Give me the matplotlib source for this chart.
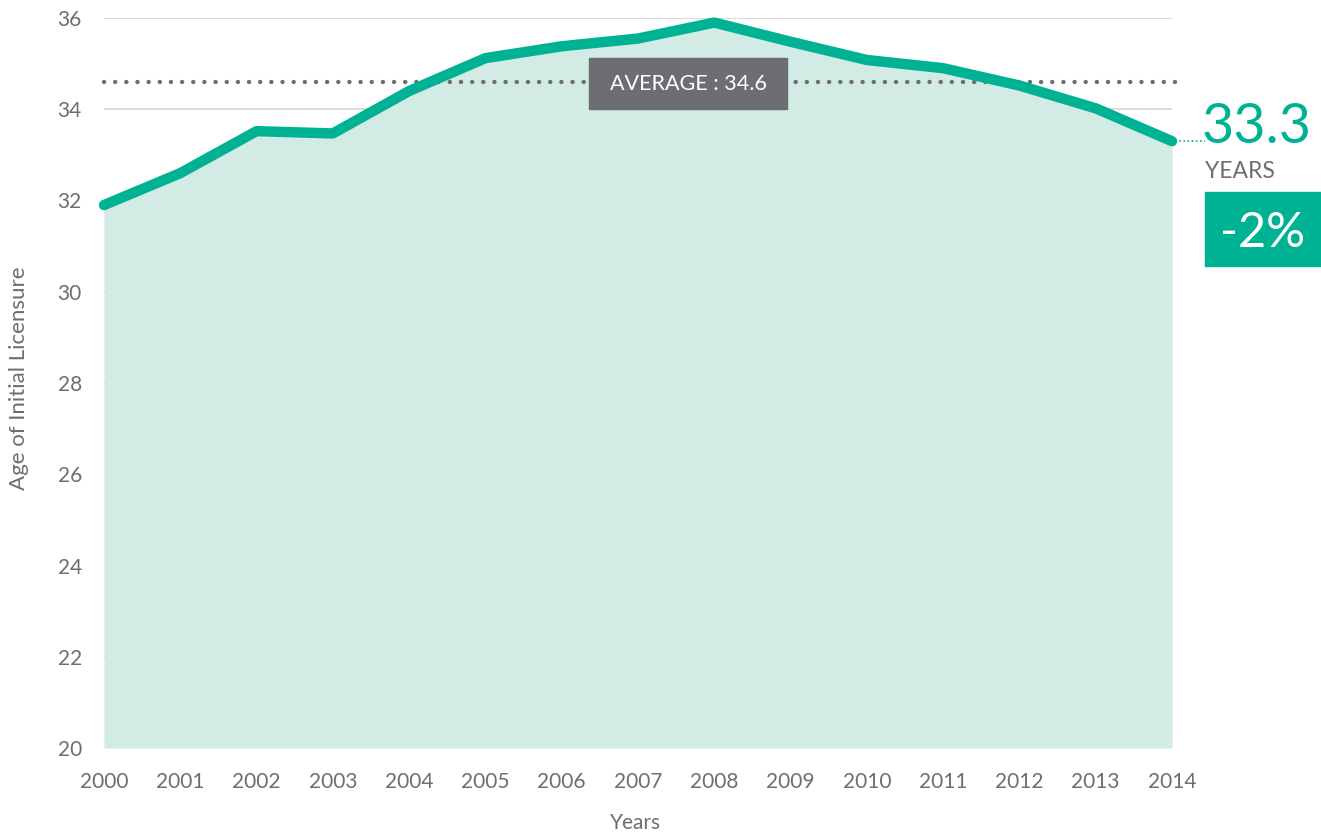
import matplotlib
matplotlib.use("Agg")
import matplotlib.pyplot as plt
from matplotlib.patches import Rectangle
from matplotlib.lines import Line2D
from matplotlib import font_manager

years = [2000, 2001, 2002, 2003, 2004, 2005, 2006, 2007, 2008, 2009, 2010, 2011, 2012, 2013, 2014]
ages = [31.9, 32.6, 33.52, 33.47, 34.4, 35.12, 35.38, 35.55, 35.9, 35.48, 35.08, 34.9, 34.52, 34.02, 33.3]
average = 34.6
yticks = [20, 22, 24, 26, 28, 30, 32, 34, 36]
last_value_label = "33.3"
change_label = "-2%"

GREEN = "#00B294"
FILL = "#D2EBE4"
GRAY = "#6D6E71"
GRID = "#D3D3D3"

names = {f.name for f in font_manager.fontManager.ttflist}
FONT = "Lato" if "Lato" in names else "DejaVu Sans"
plt.rcParams['font.family'] = [FONT, 'DejaVu Sans']

W, H = 1321, 835
fig = plt.figure(figsize=(W / 100, H / 100), dpi=100)
fig.patch.set_facecolor("white")

def fx(px):
    return px / W

def fy(py):
    return 1 - py / H

ax = fig.add_axes([fx(104), fy(748), fx(1172) - fx(104), fy(18) - fy(748)])
ax.set_xlim(years[0], years[-1])
ax.set_ylim(20, 36)

for t in yticks:
    ax.axhline(t, color=GRID, lw=1.2, zorder=0)

ax.fill_between(years, ages, 20, color=FILL, lw=0, zorder=1)
ax.plot(years, ages, color=GREEN, lw=7.5, solid_capstyle="round",
        solid_joinstyle="round", zorder=4, clip_on=False)

# average dotted line
ax.plot([years[0], years[-1] + 0.05], [average, average], color=GRAY, lw=3.2,
        linestyle=(0, (0.01, 2.5)), dash_capstyle="round", zorder=3, clip_on=False)

for s in ax.spines.values():
    s.set_visible(False)
ax.set_xticks(years)
ax.set_xticklabels([str(y) for y in years])
ax.set_yticks(yticks)
ax.tick_params(axis="both", length=0, labelsize=15, labelcolor=GRAY)
ax.tick_params(axis="y", pad=16)
ax.tick_params(axis="x", pad=17)

fig.text(fx(19), fy(378), "Age of Initial Licensure", rotation=90, ha="center",
         va="center", fontsize=16, color=GRAY)
fig.text(fx(636), fy(823), "Years", ha="center", va="center", fontsize=15, color=GRAY)

# average label box
fig.patches.append(Rectangle((fx(589), fy(109)), fx(787) - fx(589), fy(58) - fy(109),
                             transform=fig.transFigure, color=GRAY, zorder=5))
fig.text(fx(688), fy(84), f"AVERAGE : {average}", ha="center", va="center",
         fontsize=15.5, color="white", zorder=6)

# right annotation
fig.lines.append(Line2D([fx(1175), fx(1205)], [fy(141), fy(141)], transform=fig.transFigure,
                        color=GREEN, lw=1.2, linestyle=(0, (1, 1.5))))
fig.text(fx(1202), fy(143), last_value_label, ha="left", va="baseline",
         fontsize=40, color=GREEN)
fig.text(fx(1205), fy(178), "YEARS", ha="left", va="baseline", fontsize=16.5, color=GRAY)
fig.patches.append(Rectangle((fx(1205), fy(266)), fx(1321) - fx(1205), fy(192) - fy(266),
                             transform=fig.transFigure, color=GREEN, zorder=5))
fig.text(fx(1263), fy(247), change_label, ha="center", va="baseline", fontsize=35,
         color="white", zorder=6)

fig.savefig("out.png", dpi=100, facecolor="white")
